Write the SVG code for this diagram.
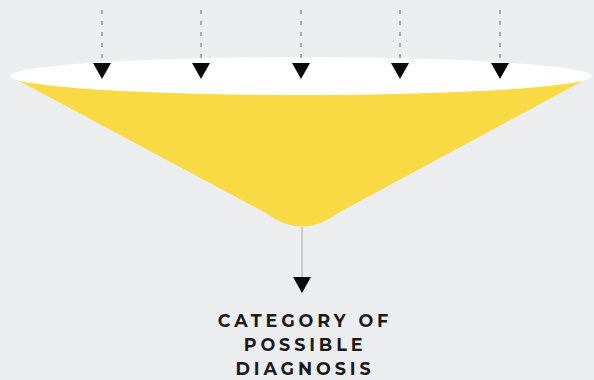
<svg xmlns="http://www.w3.org/2000/svg" width="594" height="380" viewBox="0 0 594 380">
<style>
.dot{stroke:#a9a9ab;stroke-width:2;stroke-dasharray:4 7;fill:none}
.arr{fill:#0a0a0a}
.lbl{font-family:"Montserrat","Lato","Open Sans",sans-serif;font-weight:700;font-size:17.5px;letter-spacing:3.9px;fill:#1a1a1a;text-anchor:middle}
</style>
<rect width="594" height="380" fill="#ecedef"/>
<g id="funnel">
<path d="M10,76 L266,213 Q302,240 338,213 L592,76 Z" fill="#f9da45"/>
<ellipse cx="301" cy="76" rx="291" ry="19" fill="#ffffff"/>
</g>
<g id="connectors">
<line class="dot" x1="102" y1="10" x2="102" y2="62"/>
<line class="dot" x1="201" y1="10" x2="201" y2="62"/>
<line class="dot" x1="301" y1="10" x2="301" y2="62"/>
<line class="dot" x1="400" y1="10" x2="400" y2="62"/>
<line class="dot" x1="500" y1="10" x2="500" y2="62"/>
<polygon class="arr" points="93,63 111,63 102,79"/>
<polygon class="arr" points="192,63 210,63 201,79"/>
<polygon class="arr" points="292,63 310,63 301,79"/>
<polygon class="arr" points="391,63 409,63 400,79"/>
<polygon class="arr" points="491,63 509,63 500,79"/>
<line x1="302" y1="227" x2="302" y2="278" stroke="#a9a9ab" stroke-width="1"/>
<polygon class="arr" points="293,277 311,277 302,293"/>
</g>
<g id="label">
<text class="lbl" x="305" y="327">CATEGORY OF</text>
<text class="lbl" x="305" y="351">POSSIBLE</text>
<text class="lbl" x="305" y="375">DIAGNOSIS</text>
</g>
</svg>
